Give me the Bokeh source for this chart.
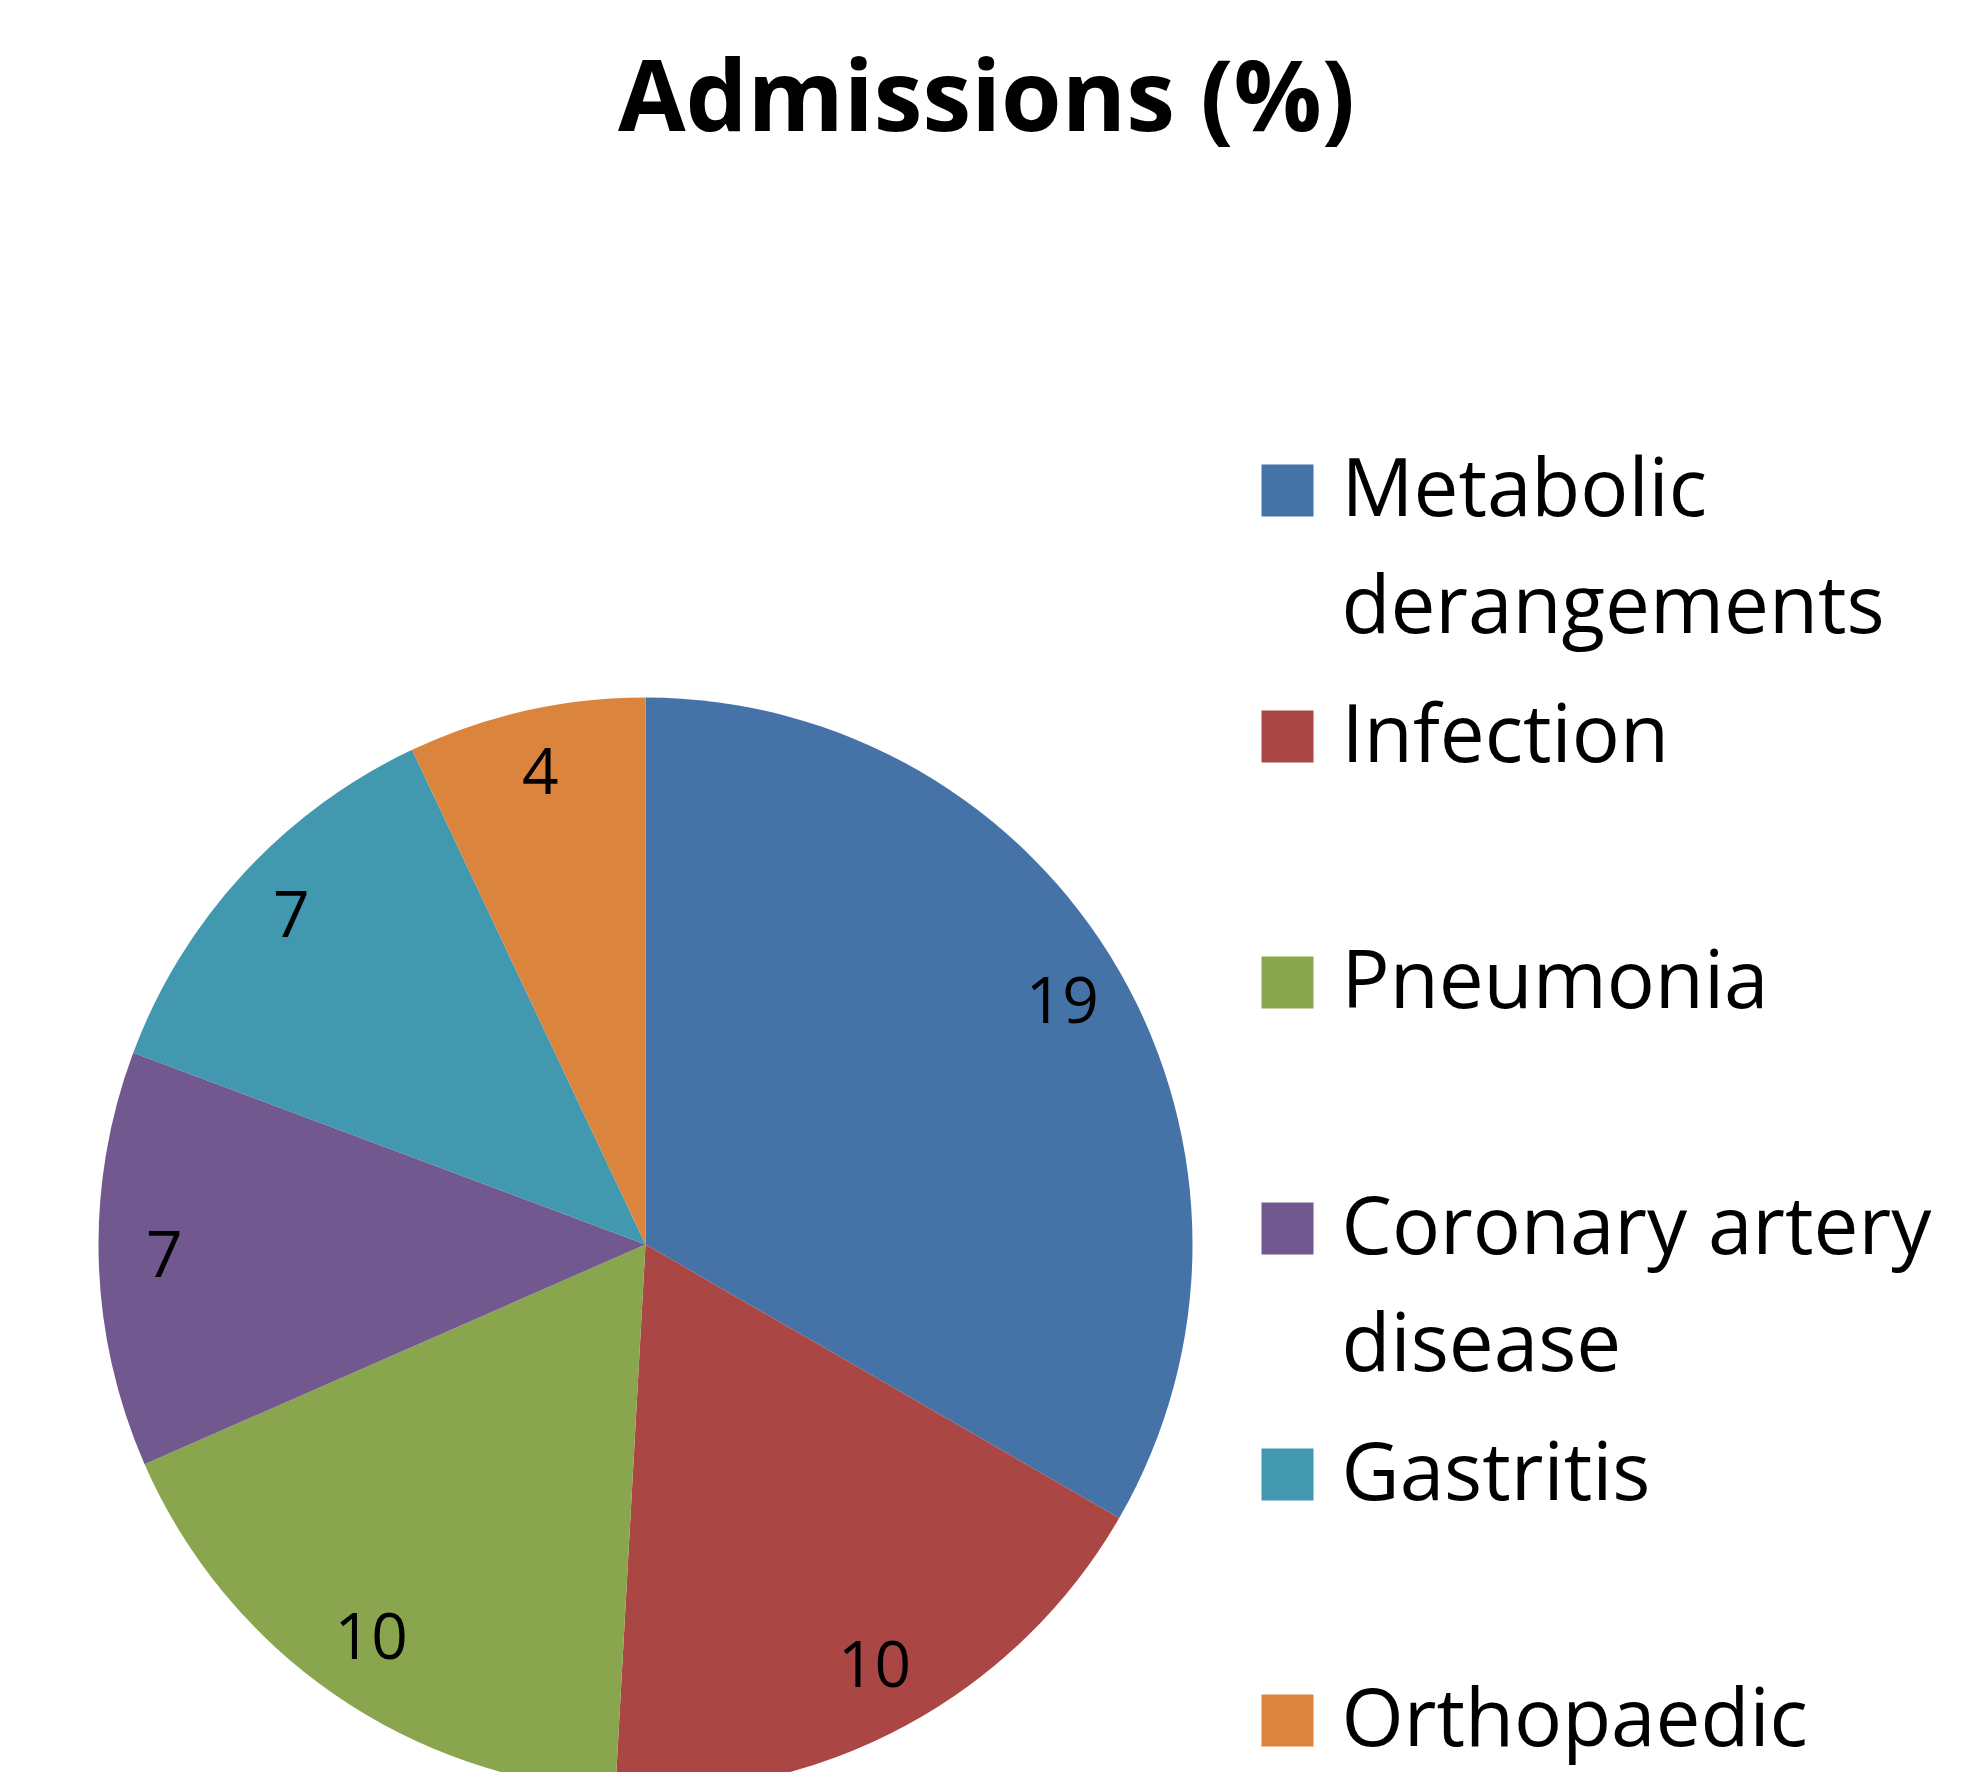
import math
from bokeh.plotting import figure
from bokeh.models import Range1d, ColumnDataSource
from bokeh.core.properties import value
from bokeh.embed import file_html
from bokeh.resources import INLINE

# ---- data ----
categories = ["Metabolic derangements", "Infection", "Pneumonia",
              "Coronary artery disease", "Gastritis", "Orthopaedic"]
values = [19, 10, 10, 7, 7, 4]
legend_line1 = ["Metabolic", "Infection", "Pneumonia", "Coronary artery", "Gastritis", "Orthopaedic"]
legend_line2 = ["derangements", "", "", "disease", "", ""]
colors = ["#4572A7", "#AA4643", "#89A54E", "#71588F", "#4198AF", "#DB843D"]
title_text = "Admissions (%)"

# ---- layout (pixel space, y up) ----
W, H = 1945, 1772
def X(x):
    return x
def Y(y):
    return H - y

BASE_SHIFT = 0.42  # rendered baseline sits this many em below the anchor

cx, cy, R = X(645), Y(1244), 547
label_frac = 0.88
label_fs = 64

total = sum(values)
starts, ends, lx, ly = [], [], [], []
cum = 0.0
for v in values:
    a0 = math.pi / 2 - 2 * math.pi * cum / total
    a1 = math.pi / 2 - 2 * math.pi * (cum + v) / total
    mid = (a0 + a1) / 2
    starts.append(a0)
    ends.append(a1)
    lx.append(cx + label_frac * R * math.cos(mid))
    ly.append(cy + label_frac * R * math.sin(mid))
    cum += v

pie_src = ColumnDataSource(dict(start=starts, end=ends, color=colors, cat=categories))
lab_src = ColumnDataSource(dict(x=lx, y=ly, t=[str(v) for v in values]))

p = figure(width=W, height=H, x_range=Range1d(0, W), y_range=Range1d(0, H),
           output_backend="svg", toolbar_location=None,
           x_axis_location=None, y_axis_location=None, min_border=0)
p.grid.visible = False
p.outline_line_color = None
p.background_fill_color = "white"
p.border_fill_color = "white"

p.wedge(x=cx, y=cy, radius=R, start_angle="start", end_angle="end",
        direction="clock", fill_color="color", line_color=None, source=pie_src)

# digit centre = baseline - 0.357em ; baseline = anchor + BASE_SHIFT em
p.text(x="x", y="y", text="t", source=lab_src, text_align="center",
       text_baseline="alphabetic",
       y_offset=round(0.357 * label_fs - BASE_SHIFT * label_fs),
       text_font=value("Open Sans"), text_font_size=f"{label_fs}px", text_color="black")

# title
title_fs = 98
p.text(x=[X(986)], y=[Y(134 - BASE_SHIFT * title_fs)], text=[title_text], text_align="center",
       text_baseline="alphabetic", text_font=value("Open Sans"),
       text_font_style="bold", text_font_size=f"{title_fs}px", text_color="black")

# legend
leg_fs = 80
n = len(categories)
leg_cy_ref = [490 + 246 * i for i in range(n)]
leg_src = ColumnDataSource(dict(x=[X(1287)] * n, y=[Y(c) for c in leg_cy_ref], color=colors))
p.rect(x="x", y="y", width=52, height=52, fill_color="color", line_color=None, source=leg_src)

shift = BASE_SHIFT * leg_fs
t1_src = ColumnDataSource(dict(x=[X(1341)] * n,
                               y=[Y(c + 28 - shift) for c in leg_cy_ref],
                               t=legend_line1))
p.text(x="x", y="y", text="t", source=t1_src,
       text_align="left", text_baseline="alphabetic", text_font=value("Open Sans"),
       text_font_size=f"{leg_fs}px", text_color="black")

idx2 = [i for i in range(n) if legend_line2[i]]
t2_src = ColumnDataSource(dict(x=[X(1341)] * len(idx2),
                               y=[Y(leg_cy_ref[i] + 28 + 117 - shift) for i in idx2],
                               t=[legend_line2[i] for i in idx2]))
p.text(x="x", y="y", text="t", source=t2_src,
       text_align="left", text_baseline="alphabetic", text_font=value("Open Sans"),
       text_font_size=f"{leg_fs}px", text_color="black")

open("out.html", "w").write(file_html(p, INLINE))
